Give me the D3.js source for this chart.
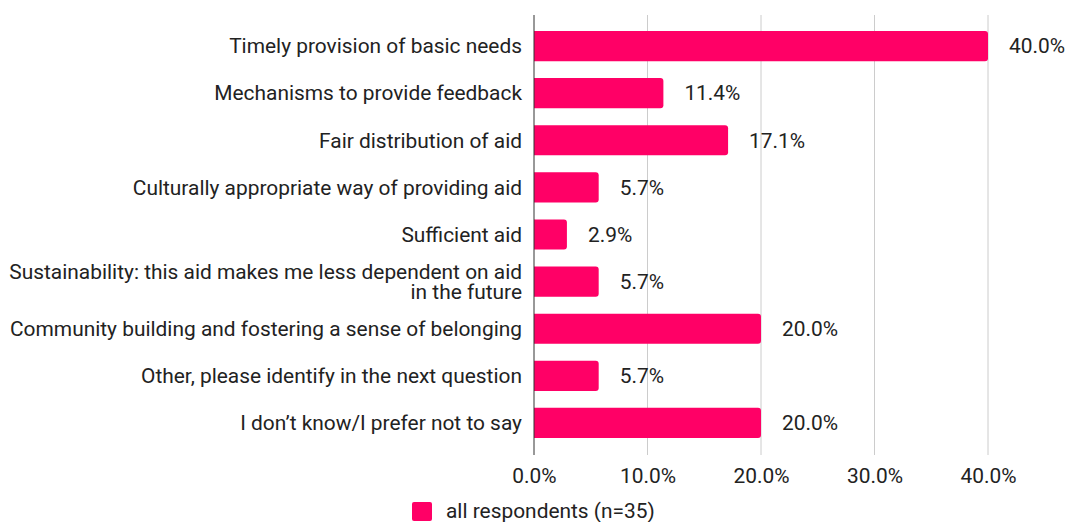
<!DOCTYPE html>
<html><head><meta charset="utf-8">
<script src="https://cdn.jsdelivr.net/npm/d3@7"></script>
<style>body{margin:0;background:#fff}svg{display:block;font-family:Roboto,sans-serif}</style>
</head><body><svg id="c" width="1068" height="522"></svg>
<script>
const categories = [
  ["Timely provision of basic needs"],
  ["Mechanisms to provide feedback"],
  ["Fair distribution of aid"],
  ["Culturally appropriate way of providing aid"],
  ["Sufficient aid"],
  ["Sustainability: this aid makes me less dependent on aid", "in the future"],
  ["Community building and fostering a sense of belonging"],
  ["Other, please identify in the next question"],
  ["I don\u2019t know/I prefer not to say"]
];
const values = [40.0, 11.4, 17.1, 5.7, 2.9, 5.7, 20.0, 5.7, 20.0];
const ticks = [0, 10, 20, 30, 40];
const seriesName = "all respondents (n=35)";
const color = "#ff0066";
const fs = 20.9;

const svg = d3.select("#c");
const x = d3.scaleLinear().domain([0, 40]).range([534, 988]);
const y = d3.scaleBand().domain(d3.range(categories.length)).range([22.5, 446.5]).paddingInner(0.36).paddingOuter(0.18);

// gridlines
svg.append("g").selectAll("line").data(ticks.slice(1)).join("line")
  .attr("x1", d => x(d)).attr("x2", d => x(d)).attr("y1", 15).attr("y2", 455)
  .attr("stroke", "#ccc").attr("stroke-width", 1);

// bars with rounded right corners
const r = 3;
svg.append("g").selectAll("path").data(values).join("path")
  .attr("fill", color)
  .attr("d", (d, i) => {
    const x0 = x(0), x1 = x(d), y0 = y(i), h = y.bandwidth();
    const rr = Math.min(r, (x1 - x0) / 2);
    return `M${x0},${y0}H${x1 - rr}Q${x1},${y0} ${x1},${y0 + rr}V${y0 + h - rr}Q${x1},${y0 + h} ${x1 - rr},${y0 + h}H${x0}Z`;
  });

// axis line
svg.append("line").attr("x1", x(0)).attr("x2", x(0)).attr("y1", 15).attr("y2", 455)
  .attr("stroke", "#333").attr("stroke-width", 1);

// value labels
svg.append("g").selectAll("text").data(values).join("text")
  .attr("x", d => x(d) + 21).attr("y", (d, i) => y(i) + y.bandwidth() / 2)
  .attr("dy", "0.35em").attr("font-size", fs).attr("fill", "#222")
  .text(d => d.toFixed(1) + "%");

// category labels
const lh = 20;
const cl = svg.append("g").selectAll("text").data(categories).join("text")
  .attr("text-anchor", "end").attr("font-size", fs).attr("fill", "#222")
  .attr("x", 522)
  .attr("y", (d, i) => y(i) + y.bandwidth() / 2 - (d.length - 1) * lh / 2);
cl.selectAll("tspan").data(d => d).join("tspan")
  .attr("x", 522).attr("dy", (d, j) => j === 0 ? "0.35em" : lh).text(d => d);

// x axis tick labels
const xAxis = d3.axisBottom(x).tickValues(ticks).tickSize(0).tickPadding(0).tickFormat(d => d.toFixed(1) + "%");
const ga = svg.append("g").attr("transform", "translate(0,468)").call(xAxis);
ga.select(".domain").remove();
ga.selectAll("text").attr("font-size", fs).attr("fill", "#222").attr("font-family", "Roboto,sans-serif");

// legend
svg.append("rect").attr("x", 412).attr("y", 502).attr("width", 20).attr("height", 19).attr("rx", 2).attr("fill", color);
svg.append("text").attr("x", 446).attr("y", 511).attr("dy", "0.35em").attr("font-size", fs).attr("fill", "#222").text(seriesName);
</script></body></html>
